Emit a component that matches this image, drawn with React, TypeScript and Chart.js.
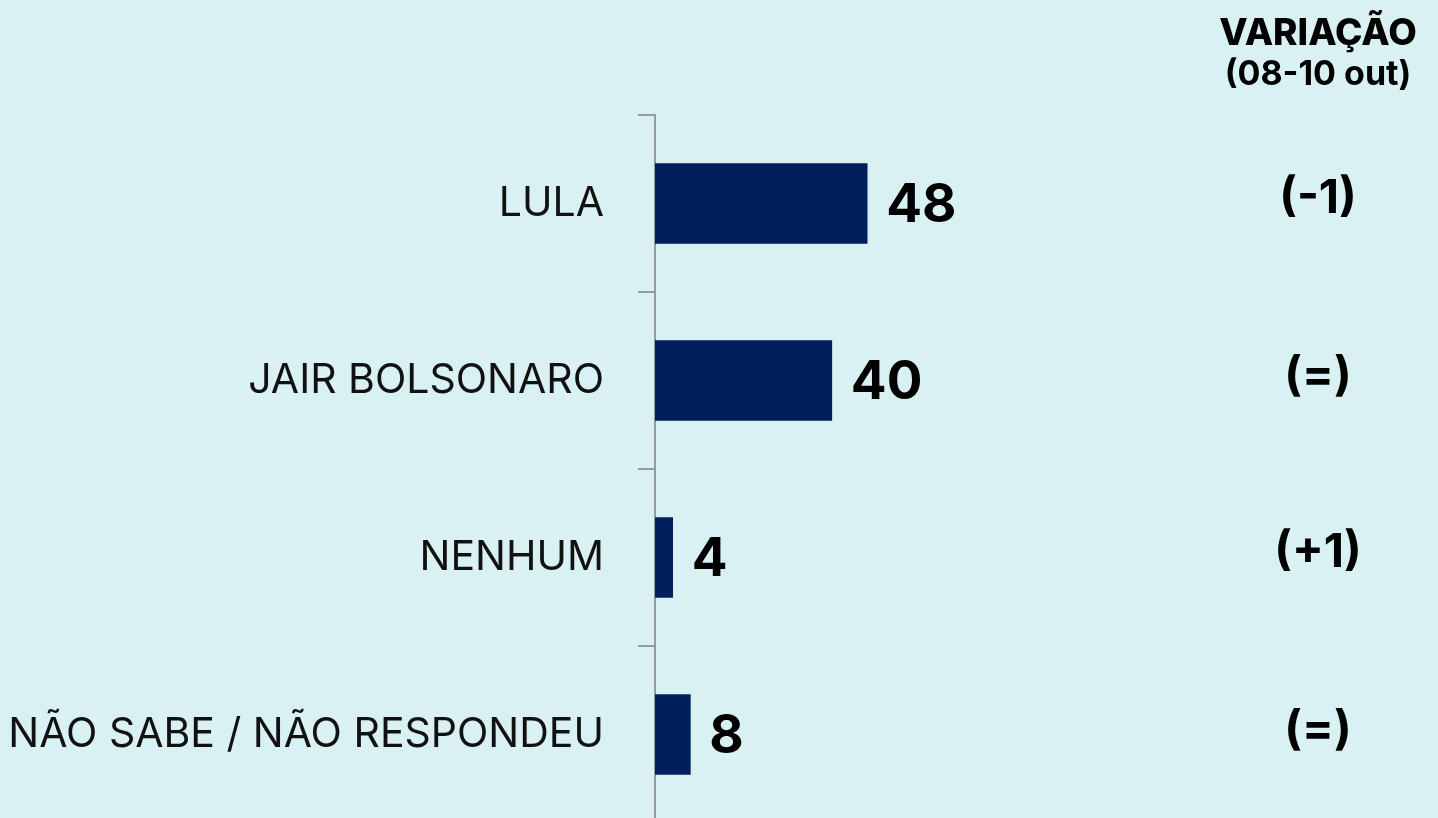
import React, { useEffect, useRef } from "react";
import { Chart, registerables } from "chart.js";

Chart.register(...registerables);

const categories = ["LULA", "JAIR BOLSONARO", "NENHUM", "NÃO SABE / NÃO RESPONDEU"];
const values = [48, 40, 4, 8];
const variations = ["(-1)", "(=)", "(+1)", "(=)"];
const headerLines = ["VARIAÇÃO", "(08-10 out)"];

const BG = "#daf1f3";
const BAR = "#001f5c";
const FONT = "Inter, 'Noto Sans', sans-serif";

const W = 1438;
const H = 830;

const overlayPlugin = {
  id: "overlay",
  afterDatasetsDraw(chart: any) {
    const ctx = chart.ctx;
    const meta = chart.getDatasetMeta(0);
    const yScale = chart.scales.y;
    ctx.save();
    ctx.fillStyle = "#000";
    ctx.textBaseline = "middle";
    ctx.textAlign = "left";
    ctx.font = `700 53px ${FONT}`;
    meta.data.forEach((bar: any, i: number) => {
      ctx.fillText(String(values[i]), bar.x + 19, bar.y + 3);
    });
    ctx.textAlign = "center";
    ctx.font = `700 47px ${FONT}`;
    variations.forEach((v, i) => {
      const y = yScale.getPixelForValue(i);
      ctx.fillText(v, 1318, y - 5);
    });
    ctx.font = `800 37px ${FONT}`;
    ctx.fillText(headerLines[0], 1318, 34);
    ctx.font = `700 34px ${FONT}`;
    ctx.fillText(headerLines[1], 1318, 75);
    ctx.restore();
  },
};

const bgPlugin = {
  id: "bg",
  beforeDraw(chart: any) {
    const ctx = chart.ctx;
    ctx.save();
    ctx.fillStyle = BG;
    ctx.fillRect(0, 0, chart.width, chart.height);
    ctx.restore();
  },
};

export default function App() {
  const ref = useRef<HTMLCanvasElement | null>(null);
  useEffect(() => {
    if (!ref.current) return;
    const chart = new Chart(ref.current, {
      type: "bar",
      data: {
        labels: categories,
        datasets: [
          {
            data: values,
            backgroundColor: BAR,
            borderWidth: 0,
            barThickness: 80,
          },
        ],
      },
      options: {
        indexAxis: "y",
        animation: false,
        responsive: true,
        maintainAspectRatio: false,
        devicePixelRatio: 1,
        layout: { padding: { left: 0, top: 115, right: 341, bottom: 7 } },
        plugins: {
          legend: { display: false },
          tooltip: { enabled: false },
          title: { display: false },
        },
        scales: {
          x: {
            display: false,
            min: 0,
            max: 100,
          },
          y: {
            offset: true,
            afterFit(scale: any) {
              scale.width = 655;
              scale.paddingTop = 0;
              scale.paddingBottom = 0;
            },
            border: { display: true, color: "#9a9a9a", width: 2 },
            grid: {
              offset: true,
              drawOnChartArea: false,
              drawTicks: true,
              tickLength: 17,
              color: "#9a9a9a",
              lineWidth: 2,
            },
            ticks: {
              color: "#111",
              padding: 34,
              font: { family: FONT, size: 41, weight: 400 },
            },
          },
        },
      },
      plugins: [bgPlugin, overlayPlugin],
    });
    return () => chart.destroy();
  }, []);
  return (
    <div style={{ position: "fixed", left: 0, top: 0, width: W, height: H, background: BG }}>
      <canvas ref={ref} style={{ display: "block" }} />
    </div>
  );
}
